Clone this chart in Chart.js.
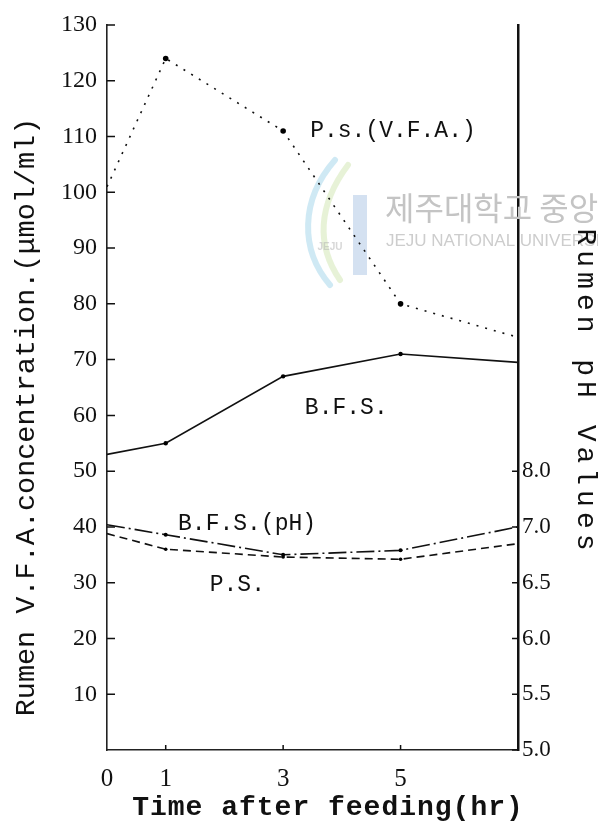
<!DOCTYPE html>
<html>
<head>
<meta charset="utf-8">
<script src="https://cdn.jsdelivr.net/npm/chart.js@4.4.1/dist/chart.umd.min.js"></script>
<style>
  html, body { margin: 0; padding: 0; background: #fff; }
  canvas { display: block; }
</style>
</head>
<body>
<canvas id="chart" width="598" height="839"></canvas>
<script>
// values
const hours = [0, 1, 3, 5, 7];
const psVfa = [101, 124, 111, 80, 74];
const bfsVfa = [53, 55, 67, 71, 69.5];
const bfsPh = [7.02, 6.93, 6.75, 6.79, 7.0];
const psPh = [6.94, 6.80, 6.73, 6.71, 6.85];

const hourTicks = [0, 1, 3, 5];
const vfaTicks = [10, 20, 30, 40, 50, 60, 70, 80, 90, 100, 110, 120, 130];
const phTicks = [5.0, 5.5, 6.0, 6.5, 7.0, 7.5];
const phTickLabels = ['5.0', '5.5', '6.0', '6.5', '7.0', '8.0'];

const toPoints = (ys) => hours.map((h, i) => ({ x: h, y: ys[i] }));
const innerRadius = (r) => (c) => (c.dataIndex === 0 || c.dataIndex === hours.length - 1) ? 0 : r;

const mono = '"Liberation Mono", "DejaVu Sans Mono", monospace';
const serif = '"Liberation Serif", "DejaVu Serif", serif';

// labels placed in data coordinates
const curveLabels = [
  { text: 'P.s.(V.F.A.)', x: 3.46, y: 111, axis: 'y' },
  { text: 'B.F.S.', x: 3.37, y: 61.3, axis: 'y' },
  { text: 'B.F.S.(pH)', x: 1.21, y: 40.5, axis: 'y' },
  { text: 'P.S.', x: 1.75, y: 29.6, axis: 'y' }
];

const paper = {
  id: 'paper',
  beforeDraw(chart) {
    const { ctx, width, height } = chart;
    ctx.save();
    ctx.fillStyle = '#fff';
    ctx.fillRect(0, 0, width, height);
    ctx.restore();
  },
  beforeDatasetsDraw(chart) {
    // faint library watermark
    const { ctx } = chart;
    ctx.save();
    ctx.globalAlpha = 0.5;
    ctx.lineCap = 'round';
    ctx.lineWidth = 6;
    ctx.strokeStyle = '#9fd3ea';
    ctx.beginPath();
    ctx.moveTo(335, 160);
    ctx.bezierCurveTo(300, 200, 300, 250, 330, 285);
    ctx.stroke();
    ctx.strokeStyle = '#cfe6b0';
    ctx.beginPath();
    ctx.moveTo(348, 165);
    ctx.bezierCurveTo(318, 205, 316, 245, 340, 280);
    ctx.stroke();
    ctx.fillStyle = '#a9c4e4';
    ctx.fillRect(353, 195, 14, 80);
    ctx.fillStyle = '#b0b0b0';
    ctx.font = 'bold 10px "Liberation Sans", sans-serif';
    ctx.textAlign = 'center';
    ctx.fillText('JEJU', 330, 250);
    ctx.globalAlpha = 1;
    ctx.fillStyle = '#c4c4c4';
    ctx.textAlign = 'left';
    ctx.textBaseline = 'middle';
    ctx.font = '32px "Noto Sans CJK KR", sans-serif';
    ctx.fillText('제주대학교 중앙도서관', 385, 208);
    ctx.fillStyle = '#cdcdcd';
    ctx.font = '17px "Liberation Sans", sans-serif';
    ctx.fillText('JEJU NATIONAL UNIVERSITY LIBRARY', 386, 241);
    ctx.restore();
  },
  afterDraw(chart) {
    const { ctx, chartArea, scales: { x, y, ph } } = chart;
    ctx.save();
    // inward tick marks
    ctx.strokeStyle = '#111';
    ctx.lineWidth = 1.5;
    ctx.beginPath();
    vfaTicks.forEach(v => {
      const py = y.getPixelForValue(v);
      ctx.moveTo(chartArea.left, py);
      ctx.lineTo(chartArea.left + 8, py);
    });
    phTicks.forEach(v => {
      const py = ph.getPixelForValue(v);
      ctx.moveTo(chartArea.right, py);
      ctx.lineTo(chartArea.right - 6, py);
    });
    hourTicks.slice(1).forEach(h => {
      const px = x.getPixelForValue(h);
      ctx.moveTo(px, chartArea.bottom);
      ctx.lineTo(px, chartArea.bottom - 5);
    });
    ctx.stroke();

    ctx.fillStyle = '#111';
    ctx.textBaseline = 'middle';
    ctx.textAlign = 'left';
    ctx.font = '23px ' + mono;
    curveLabels.forEach(l => {
      ctx.fillText(l.text, x.getPixelForValue(l.x), chart.scales[l.axis].getPixelForValue(l.y));
    });

    // axis titles
    ctx.textAlign = 'center';
    ctx.save();
    ctx.translate(26, 417);
    ctx.rotate(-Math.PI / 2);
    ctx.font = '28.5px ' + mono;
    ctx.fillText('Rumen V.F.A.concentration.(\u03bcmol/ml)', 0, 0);
    ctx.restore();

    ctx.save();
    ctx.translate(585, 392);
    ctx.rotate(Math.PI / 2);
    ctx.font = '28px ' + mono;
    ctx.letterSpacing = '5px';
    ctx.fillText('Rumen pH Values', 0, 0);
    ctx.restore();

    ctx.font = 'bold 28px ' + mono;
    ctx.letterSpacing = '1px';
    ctx.fillText('Time after feeding(hr)', 328, 808);
    ctx.restore();
  }
};

new Chart(document.getElementById('chart'), {
  type: 'line',
  data: {
    datasets: [
      {
        label: 'P.s.(V.F.A.)',
        data: toPoints(psVfa),
        yAxisID: 'y',
        borderColor: '#111',
        borderWidth: 1.6,
        borderDash: [2, 7],
        pointRadius: innerRadius(2.8),
        pointBackgroundColor: '#000',
        pointBorderWidth: 0
      },
      {
        label: 'B.F.S.',
        data: toPoints(bfsVfa),
        yAxisID: 'y',
        borderColor: '#111',
        borderWidth: 1.6,
        pointRadius: innerRadius(2.2),
        pointBackgroundColor: '#000',
        pointBorderWidth: 0
      },
      {
        label: 'B.F.S.(pH)',
        data: toPoints(bfsPh),
        yAxisID: 'ph',
        borderColor: '#111',
        borderWidth: 1.6,
        borderDash: [18, 4, 2, 4],
        pointRadius: innerRadius(2),
        pointBackgroundColor: '#000',
        pointBorderWidth: 0
      },
      {
        label: 'P.S.',
        data: toPoints(psPh),
        yAxisID: 'ph',
        borderColor: '#111',
        borderWidth: 1.6,
        borderDash: [8, 5],
        pointRadius: innerRadius(1.8),
        pointBackgroundColor: '#000',
        pointBorderWidth: 0
      }
    ]
  },
  options: {
    responsive: false,
    animation: false,
    devicePixelRatio: 1,
    layout: { padding: { top: 25, left: 0, right: 0, bottom: 0 } },
    plugins: {
      legend: { display: false },
      tooltip: { enabled: false }
    },
    scales: {
      x: {
        type: 'linear',
        min: 0,
        max: 7,
        afterBuildTicks: (s) => { s.ticks = hourTicks.map(v => ({ value: v })); },
        afterFit: (s) => { s.height = 89; },
        grid: { display: false, drawTicks: false },
        border: { color: '#222', width: 1.5, dash: [12, 4] },
        ticks: {
          padding: 14,
          color: '#111',
          font: { family: serif, size: 25 },
          callback: (v) => String(v)
        }
      },
      y: {
        position: 'left',
        min: 0,
        max: 130,
        afterBuildTicks: (s) => { s.ticks = vfaTicks.map(v => ({ value: v })); },
        afterFit: (s) => { s.width = 107; },
        grid: { display: false, drawTicks: false },
        border: { color: '#222', width: 1.6, dash: [9, 3] },
        ticks: {
          padding: 10,
          color: '#111',
          font: { family: serif, size: 24 },
          callback: (v) => String(v)
        }
      },
      ph: {
        position: 'right',
        min: 5.0,
        max: 11.5,
        afterBuildTicks: (s) => { s.ticks = phTicks.map(v => ({ value: v })); },
        afterFit: (s) => { s.width = 80; },
        grid: { display: false, drawTicks: false },
        border: { color: '#111', width: 2.5 },
        ticks: {
          padding: 4,
          color: '#111',
          font: { family: serif, size: 23 },
          callback: (v, i) => phTickLabels[i]
        }
      }
    }
  },
  plugins: [paper]
});
</script>
</body>
</html>
